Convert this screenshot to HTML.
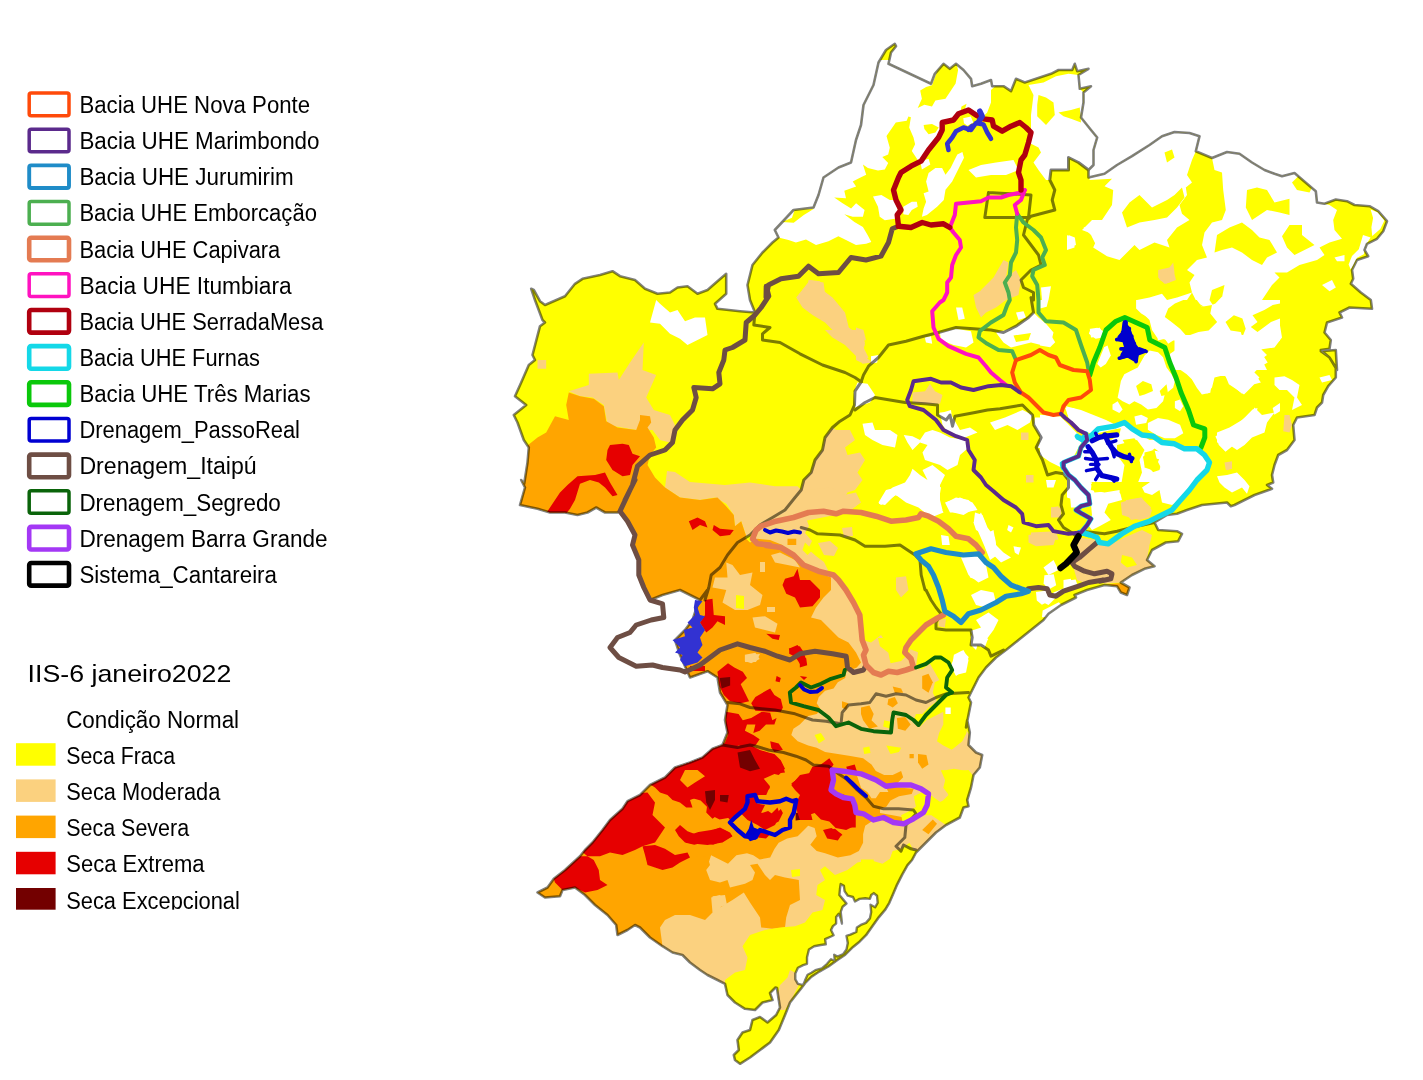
<!DOCTYPE html>
<html><head><meta charset="utf-8"><title>map</title>
<style>
html,body{margin:0;padding:0;background:#fff;}
body{width:1423px;height:1080px;overflow:hidden;}
svg{display:block;}
.t{font-family:"Liberation Sans",sans-serif;font-size:23px;fill:#000;}
.h{font-family:"Liberation Sans",sans-serif;font-size:24.4px;fill:#000;}
</style></head><body>
<svg width="1423" height="1080" viewBox="0 0 1423 1080">
<rect width="1423" height="1080" fill="#fff"/>
<clipPath id="c"><polygon points="531.2,288.8 533.8,290 540,301.2 545,305 565,296.2 575,283.8 582.5,278.8 600,275 612.5,271.2 620,276.2 635,280 645,288.8 657.5,293.8 670,292.5 677.5,287.5 687.5,286.2 697.5,293.8 707.5,290 717.5,281.2 726.2,273.8 726.2,293.8 715,303.8 717.5,308.8 740,311.2 755,312.5 750,300 747.5,285 752.5,265 762.5,252.5 772.5,242.5 778.5,237.5 774.8,230 793.5,210 813.5,207.5 818.5,195 823.5,177.5 838.5,167.5 851,162.5 856,140 861,125 863.5,105 873.5,85 878.5,62.5 886,50 894.8,43.8 896,46.2 891,52.5 888.5,63.8 931,83.8 934.8,73.8 943.5,63.8 949.8,68.8 956,63.8 963.5,70 971,78.8 972.2,86.2 981,83.8 991,80 992.2,86.2 1003.5,86.2 1011,91.2 1016,78.8 1024.8,82.5 1051,73.8 1058.5,70 1072.2,70 1074.8,63.8 1077.2,71.2 1088.5,68.8 1078.5,75 1079.8,88.8 1091,86.2 1083.5,92.5 1083.5,102.5 1081,117.5 1091,130 1097.2,137.5 1093.5,150 1093.5,165 1088.5,170 1088.5,177.5 1104.5,173.8 1117,165 1132,156.2 1149.5,145 1162,136.2 1174.5,132 1189.5,133 1199.5,136.2 1195.8,151.2 1212,158 1227,152 1239.5,153.8 1252,162.5 1264.5,170 1274.5,173.8 1282,176.2 1294.5,173 1307,183.8 1315.8,191.2 1317,202.5 1324.5,203.8 1335.8,199.5 1347,201.2 1354.5,205 1369.5,206.2 1378.2,211.2 1387,221.2 1383.2,231.2 1377,238.8 1367,243.8 1364.5,250 1368.2,256.2 1357,260 1352,270 1353.2,278.8 1350.8,283.8 1360.8,292.5 1370.8,300 1372,308.8 1349.5,307.5 1339.5,312.5 1342,317.5 1327,322.5 1324.5,332.5 1330.8,340 1329.5,348.8 1320.8,350 1329.5,357.5 1337,370 1335.8,350 1320.8,351.2 1329.5,357.5 1335.8,367.5 1335.8,377.5 1328.2,386.2 1323.2,395 1322,402.5 1317,407.5 1314.5,415 1297,417.5 1293.2,425 1294.5,440 1287,450 1278.2,455 1274.5,465 1272,475 1273.2,482.5 1267,485 1272,488.8 1254.5,495 1234.5,505 1230.8,506.2 1227,502.5 1202,505 1187,510 1177,513.8 1167,515 1154.5,522.5 1158.2,530 1177,531.2 1182,533.8 1178.2,541.2 1165.8,542.5 1152,550 1147,560 1154.5,566.2 1144.5,568.8 1132,575 1120.8,582.5 1129.5,587.5 1127,595 1120.8,592.5 1117,586.2 1104.5,585 1087,590 1074.5,595 1076,597.5 1061,605 1048.5,613.8 1043.5,620 1031,630 1018.5,640 1006,650 996,657.5 986,667.5 978.5,677.5 973.5,687.5 968.5,697.5 971,702.5 968.5,715 966,727.5 967.2,720 969.8,732.5 968.5,745 976,752.5 982.2,755 979.8,767.5 973.5,775 971,787.5 967.2,800 968.5,806.2 963.5,807.5 959.8,817.5 946,825 936,832.5 926,842.5 916,852.5 912,860 907.5,865.2 902.3,874.3 897.1,884.6 893.2,893.7 889.3,902.8 885.4,909.3 878.9,917.1 872.5,926.1 866,935.2 859.5,941.7 853,946.9 845.2,954.7 837.4,959.9 828.4,966.4 819.3,971.5 811.5,976.7 805,983.2 801.1,988.4 795.9,994.9 792,999.9 790,1002.5 785,1015 778.8,1030 770,1042.5 760,1050 750,1057.5 740,1063.8 735,1060 733.8,1055 738.8,1050 737.5,1040 742.5,1032.5 750,1030 752.5,1020 760,1017 767.5,1022.5 776.2,1015 780,1007.5 778,995 777,988 775.5,987.5 770,993 772.5,1000 762.5,1002.5 755,1010 745,1008.8 735,1002.5 727.5,995 725,983.8 717.5,980 707.5,975 700,970 690,962.5 682.5,955 672.5,952.5 662.5,946.2 650,937.5 640,927.5 635,925 627.5,930 617.5,935 616.2,925 607.5,915 595,905 585,895 575,887.5 562.5,890 560,896.2 545,897.5 537.5,892.5 547.5,887.5 553.8,878.8 565,870 580,856.2 585,850 592.5,842.5 602.5,830 610,820 622.5,808.8 627.5,801.2 640,795 650,785 665,777.5 675,767.5 690,762.5 702.5,757.5 712.5,748.8 722.5,745 727.5,732.5 725,720 727.5,705 720,692.5 717.5,677.5 707.5,671.2 690,677.5 685,666.2 680,655 675,640 685,630 692.5,620 697.5,605 700,600 690,595 680,590 662.5,595 650,600 643.8,587.5 638.8,575 638.8,560 632.5,545 635,535 627.5,521.2 620,511.2 617.5,512.5 605,512.5 596.2,507.5 587.5,512.5 577.5,515 565,512.5 550,512.5 537.5,508.8 520,505 525,487.5 521.2,480 524.2,483.8 527.5,462.5 528.8,447.5 523.8,440 517.5,422.5 513.8,415 526.2,405 515,396.2 521.2,382.5 528.8,365 535,360 532.5,355 540,326.2 545,322.5 542.5,320 535,300"/></clipPath>
<polygon points="531.2,288.8 533.8,290 540,301.2 545,305 565,296.2 575,283.8 582.5,278.8 600,275 612.5,271.2 620,276.2 635,280 645,288.8 657.5,293.8 670,292.5 677.5,287.5 687.5,286.2 697.5,293.8 707.5,290 717.5,281.2 726.2,273.8 726.2,293.8 715,303.8 717.5,308.8 740,311.2 755,312.5 750,300 747.5,285 752.5,265 762.5,252.5 772.5,242.5 778.5,237.5 774.8,230 793.5,210 813.5,207.5 818.5,195 823.5,177.5 838.5,167.5 851,162.5 856,140 861,125 863.5,105 873.5,85 878.5,62.5 886,50 894.8,43.8 896,46.2 891,52.5 888.5,63.8 931,83.8 934.8,73.8 943.5,63.8 949.8,68.8 956,63.8 963.5,70 971,78.8 972.2,86.2 981,83.8 991,80 992.2,86.2 1003.5,86.2 1011,91.2 1016,78.8 1024.8,82.5 1051,73.8 1058.5,70 1072.2,70 1074.8,63.8 1077.2,71.2 1088.5,68.8 1078.5,75 1079.8,88.8 1091,86.2 1083.5,92.5 1083.5,102.5 1081,117.5 1091,130 1097.2,137.5 1093.5,150 1093.5,165 1088.5,170 1088.5,177.5 1104.5,173.8 1117,165 1132,156.2 1149.5,145 1162,136.2 1174.5,132 1189.5,133 1199.5,136.2 1195.8,151.2 1212,158 1227,152 1239.5,153.8 1252,162.5 1264.5,170 1274.5,173.8 1282,176.2 1294.5,173 1307,183.8 1315.8,191.2 1317,202.5 1324.5,203.8 1335.8,199.5 1347,201.2 1354.5,205 1369.5,206.2 1378.2,211.2 1387,221.2 1383.2,231.2 1377,238.8 1367,243.8 1364.5,250 1368.2,256.2 1357,260 1352,270 1353.2,278.8 1350.8,283.8 1360.8,292.5 1370.8,300 1372,308.8 1349.5,307.5 1339.5,312.5 1342,317.5 1327,322.5 1324.5,332.5 1330.8,340 1329.5,348.8 1320.8,350 1329.5,357.5 1337,370 1335.8,350 1320.8,351.2 1329.5,357.5 1335.8,367.5 1335.8,377.5 1328.2,386.2 1323.2,395 1322,402.5 1317,407.5 1314.5,415 1297,417.5 1293.2,425 1294.5,440 1287,450 1278.2,455 1274.5,465 1272,475 1273.2,482.5 1267,485 1272,488.8 1254.5,495 1234.5,505 1230.8,506.2 1227,502.5 1202,505 1187,510 1177,513.8 1167,515 1154.5,522.5 1158.2,530 1177,531.2 1182,533.8 1178.2,541.2 1165.8,542.5 1152,550 1147,560 1154.5,566.2 1144.5,568.8 1132,575 1120.8,582.5 1129.5,587.5 1127,595 1120.8,592.5 1117,586.2 1104.5,585 1087,590 1074.5,595 1076,597.5 1061,605 1048.5,613.8 1043.5,620 1031,630 1018.5,640 1006,650 996,657.5 986,667.5 978.5,677.5 973.5,687.5 968.5,697.5 971,702.5 968.5,715 966,727.5 967.2,720 969.8,732.5 968.5,745 976,752.5 982.2,755 979.8,767.5 973.5,775 971,787.5 967.2,800 968.5,806.2 963.5,807.5 959.8,817.5 946,825 936,832.5 926,842.5 916,852.5 912,860 907.5,865.2 902.3,874.3 897.1,884.6 893.2,893.7 889.3,902.8 885.4,909.3 878.9,917.1 872.5,926.1 866,935.2 859.5,941.7 853,946.9 845.2,954.7 837.4,959.9 828.4,966.4 819.3,971.5 811.5,976.7 805,983.2 801.1,988.4 795.9,994.9 792,999.9 790,1002.5 785,1015 778.8,1030 770,1042.5 760,1050 750,1057.5 740,1063.8 735,1060 733.8,1055 738.8,1050 737.5,1040 742.5,1032.5 750,1030 752.5,1020 760,1017 767.5,1022.5 776.2,1015 780,1007.5 778,995 777,988 775.5,987.5 770,993 772.5,1000 762.5,1002.5 755,1010 745,1008.8 735,1002.5 727.5,995 725,983.8 717.5,980 707.5,975 700,970 690,962.5 682.5,955 672.5,952.5 662.5,946.2 650,937.5 640,927.5 635,925 627.5,930 617.5,935 616.2,925 607.5,915 595,905 585,895 575,887.5 562.5,890 560,896.2 545,897.5 537.5,892.5 547.5,887.5 553.8,878.8 565,870 580,856.2 585,850 592.5,842.5 602.5,830 610,820 622.5,808.8 627.5,801.2 640,795 650,785 665,777.5 675,767.5 690,762.5 702.5,757.5 712.5,748.8 722.5,745 727.5,732.5 725,720 727.5,705 720,692.5 717.5,677.5 707.5,671.2 690,677.5 685,666.2 680,655 675,640 685,630 692.5,620 697.5,605 700,600 690,595 680,590 662.5,595 650,600 643.8,587.5 638.8,575 638.8,560 632.5,545 635,535 627.5,521.2 620,511.2 617.5,512.5 605,512.5 596.2,507.5 587.5,512.5 577.5,515 565,512.5 550,512.5 537.5,508.8 520,505 525,487.5 521.2,480 524.2,483.8 527.5,462.5 528.8,447.5 523.8,440 517.5,422.5 513.8,415 526.2,405 515,396.2 521.2,382.5 528.8,365 535,360 532.5,355 540,326.2 545,322.5 542.5,320 535,300" fill="#ffff00" />
<g clip-path="url(#c)">
<polygon points="773.5,230.3 760,228.6 760,60 1000,60 1000,81.9 991,90 991,102.5 987.2,112.4 984.3,115.6 977.5,115.6 969.1,110.6 959,114 950.6,119.9 942.1,122.4 942.1,132.5 938.8,137.6 932,144.3 926.9,151.1 921.9,157.8 918.5,161.2 915.1,156.1 911.8,151.1 915.1,144.3 913.5,137.6 909.2,127.5 910.9,117.3 908.4,116.5 906.7,120.7 895.8,122.4 886.5,135.9 889.8,147.7 888.2,154.4 882.3,157 888.2,162.9 884.8,169.6 878,170.5 867.9,167.9 862.9,164.6 866.2,174.7 859.5,178 852.7,181.4 856.1,186.5 844.3,190.7 846,198.3 834.2,197.4 842.6,203.3 851.1,208.4 856.1,203.3 864.6,210.1 862.9,216.8 852.7,216.8 844.3,214.3 854.4,221.9 862.9,226.9 867.9,235.4 871.3,242 866.1,243.8 856,245 846,239.9 838.4,236.2 828.5,241.3 816,245 806,239.4 795.9,242.5 788.5,239.9 778.5,237.6" fill="#ffffff" />
<polygon points="932,85.3 938.8,66.7 943.8,62.5 948.9,68.4 956.5,63.4 958.1,70.1 955.6,83.6 945.5,98.8 935.4,100.5 932,106.4 924.4,104.7 917.7,108.1 921.9,98.8 920.2,90.4 926.1,87" fill="#ffff00" />
<polygon points="923.6,124.9 932,124.1 938.8,127.5 935.4,132.5 928.6,134.2 924.4,129.1" fill="#ffff00" />
<polygon points="794.6,210.1 814,208.7 803.8,215.1 793.7,222.7 781.9,221.9 792,217.7" fill="#ffff00" />
<polygon points="961.5,106.4 966.6,103.8 964.9,108.9 960.7,110.6" fill="#ffff00" />
<polygon points="873,196.6 881.4,194.9 889.8,200 894.9,200 898.3,211.8 896.6,218.5 884.8,220.2 879.7,216.8 878,206.7" fill="#ffffff" />
<polygon points="903.3,206.7 911.8,201.7 916.8,201.7 917.7,206.7 911.8,210.1 908.4,215.1 903.3,214.3" fill="#ffffff" />
<polygon points="957.3,154.4 962.4,151.9 964,157.8 957.3,171.3 952.2,181.4 945.5,189.8 943.8,200 937.1,206.7 926.9,215.1 921.9,216.8 923.6,208.4 926.1,201.7 923.6,193.2 928.6,191.5 926.1,181.4 928.6,173 935.4,167.9 942.1,167.9 945.5,174.7 950.6,167.9 953.9,161.2" fill="#ffffff" />
<polygon points="920.2,161.2 928.6,158.7 930.3,164.6 921.9,169.6" fill="#ffffff" />
<polygon points="963.2,118.2 970.8,116.5 973.3,122.4 967.4,125.8 964,123.2" fill="#ffffff" />
<polygon points="968.5,170 981,165 996,162.5 1013.5,160 1018.5,170 1006,175 991,175 976,177.5" fill="#ffffff" />
<polygon points="1033.5,95 1031,115 1031,132.5 1028.5,142.5 1038.5,147.5 1041,152.5 1033.5,162.5 1038.5,170 1046,180 1049.8,180 1051,170 1068.5,170 1068.5,157.5 1078.5,162.5 1088.5,170 1093.5,165 1093.5,150 1097.2,137.5 1091,130 1081,117.5 1083.5,102.5 1083.5,92.5 1079.8,88.8 1078.5,75 1068.5,73.8 1056,76.2 1043.5,82.5 1028.5,85" fill="#ffffff" />
<polygon points="1038.5,95 1046,97.5 1053.5,102.5 1054.8,115 1046,125 1037.2,116.2 1037.2,105" fill="#ffff00" />
<polygon points="1058.5,112.5 1071,110 1079.8,107.5 1081,122.5 1071,118.8 1063.5,116.2" fill="#ffff00" />
<polygon points="1068.5,235 1074.8,237.5 1076,245 1068.5,247.5" fill="#ffffff" />
<polygon points="1083.5,227.5 1096,225 1111.8,222.5 1111.8,255 1098.5,250 1091,235" fill="#ffffff" />
<polygon points="808.5,280 823.5,282.5 826,300 806,300" fill="#fbd17f" />
<polygon points="993.5,277.5 1003.5,260 1008.5,262.5 1006,277.5 1016,270 1021,280 1018.5,295 1006,300 976,300 981,290" fill="#fbd17f" />
<polygon points="1089.5,180 1092,150 1149.5,137.5 1174.5,125 1202,130 1195.8,151.2 1192,160 1187,175 1192,182.5 1185.8,187.5 1187,195 1179.5,205 1182,213.8 1189.5,220 1177,227.5 1167,240 1169.5,247.5 1154.5,242.5 1139.5,250 1134.5,245 1127,252.5 1119.5,260 1107,256.2 1093.2,247.5 1098.2,236.2 1082,230 1092,220 1102,220 1112,205 1113.2,190 1104.5,186.2 1112,178.8" fill="#ffffff" />
<polygon points="1122,212.5 1129.5,202.5 1139.5,195 1152,207.5 1167,200 1174.5,195 1182,187.5 1184.5,197.5 1177,207.5 1167,217.5 1154.5,220 1139.5,222.5 1127,227.5" fill="#ffff00" />
<polygon points="1164.5,152.5 1172,149.5 1174.5,157.5 1167,162.5" fill="#ffff00" />
<polygon points="1212,158 1217,137.5 1292,162.5 1319.5,187.5 1324.5,203.8 1329.5,205 1337,210 1333.2,220 1334.5,230 1342,238.8 1329.5,242.5 1319.5,247.5 1324.5,255 1317,260 1299.5,265 1287,272.5 1274.5,272.5 1279.5,277.5 1272,285 1262,300 1267,312.5 1279.5,322.5 1282,337.5 1274.5,347.5 1257,350 1262,360 1267,370 1172,370 1177,340 1167,340 1157,337.5 1152,330 1149.5,320 1139.5,310 1137,300 1149.5,297.5 1162,293.8 1167,300 1177,297.5 1184.5,295 1192,292.5 1189.5,282.5 1194.5,275 1187,270 1197,260 1207,257.5 1202,245 1204.5,232.5 1212,222.5 1222,220 1225.8,210 1223.2,190 1222,172.5 1214.5,170" fill="#ffffff" />
<polygon points="1247,190 1257,187.5 1267,190 1274.5,202.5 1289.5,198.8 1289.5,215 1279.5,212.5 1267,210 1252,220 1245.8,207.5" fill="#ffff00" />
<polygon points="1217,235 1229.5,227.5 1242,222.5 1252,230 1259.5,237.5 1269.5,240 1277,252.5 1267,257.5 1262,265 1252,260 1242,252.5 1232,247.5 1222,250 1214.5,252.5" fill="#ffff00" />
<polygon points="1289.5,225 1302,225 1302,235 1314.5,245 1304.5,250 1294.5,255 1287,247.5 1282,236.2" fill="#ffff00" />
<polygon points="1292,182.5 1299.5,175 1312,187.5 1309.5,192.5 1297,190" fill="#ffff00" />
<polygon points="1167,315 1174.5,305 1187,300 1192,292.5 1197,302.5 1209.5,310 1212,317.5 1217,322.5 1207,330 1197,330 1189.5,335 1182,325" fill="#ffff00" />
<polygon points="1227,317.5 1237,315 1242,322.5 1244.5,335 1239.5,330 1229.5,327.5" fill="#ffff00" />
<polygon points="1212,290 1224.5,285 1222,297.5 1214.5,307.5 1209.5,300" fill="#ffff00" />
<polygon points="1252,325 1259.5,321.2 1264.5,327.5 1257,332.5 1252,333.8" fill="#ffff00" />
<polygon points="1067,235 1074.5,240 1074.5,247.5 1067,250" fill="#ffffff" />
<polygon points="1322,285 1332,280 1335.8,287.5 1329.5,291.2" fill="#ffffff" />
<polygon points="1334.5,257.5 1344.5,255 1344.5,261.2 1337,261.2" fill="#ffffff" />
<polygon points="1158.2,270 1169.5,267.5 1173.2,262.5 1174.5,272.5 1169.5,282.5 1164.5,283.8 1158.2,277.5" fill="#fbd17f" />
<polygon points="1089.5,332.5 1099.5,327.5 1104.5,335 1094.5,337.5" fill="#ffffff" />
<polygon points="1136.1,301.7 1136.1,308.4 1141.2,313.5 1149.6,318.5 1151.3,321.9 1156.4,333.7 1158,340.5 1164.8,338.8 1168.2,343.8 1173.2,340.5 1180,340.5 1174.9,350.6 1169.8,354 1168.2,359 1171.5,367.5 1176.6,367.5 1181.7,370.8 1186.7,374.2 1191.8,379.3 1196.8,387.7 1201.9,394.4 1210.3,392.7 1212,380.9 1213.7,375.9 1225.5,375.9 1228.9,384.3 1239,391.1 1244,394.4 1249.1,389.4 1254.2,384.3 1260.9,382.6 1257.5,377.6 1252.5,374.2 1259.2,367.5 1267.7,362.4 1264.3,357.3 1257.5,352.3 1264.3,347.2 1272.7,343.8 1280,340.5 1280,300 1225.5,300 1222.1,296.6 1215.4,303.4 1212,305.1 1201.9,306.7 1196.8,300 1183.3,300 1174.9,303.4 1168.2,308.4 1161.4,300 1136.1,300" fill="#ffffff" />
<polygon points="1168.2,308.4 1174.9,303.4 1183.3,300 1196.8,300 1201.9,306.7 1212,305.1 1210.3,313.5 1217.1,321.9 1208.6,330.4 1198.5,332 1186.7,336.3 1180,328.7 1171.5,321.9 1164.8,316.9" fill="#ffff00" />
<polygon points="1225.5,321.9 1233.9,315.2 1242.4,318.5 1245.7,328.7 1242.4,337.1 1240.7,332 1230.6,330.4" fill="#ffff00" />
<polygon points="1252.5,315.2 1264.3,310.1 1272.7,305.1 1280,303.4 1280,318.5 1271,321.9 1264.3,327 1257.5,332 1250.8,327 1257.5,321.9" fill="#ffff00" />
<polygon points="1090.6,328.7 1097.3,327.8 1104.1,332 1105.8,337.1 1095.6,338.8 1088.9,333.7" fill="#ffffff" />
<polygon points="1104.1,347.2 1107.5,345.5 1110.8,355.6 1105.8,364.1 1100.7,367.5 1097.3,364.1" fill="#ffffff" />
<polygon points="1120.9,380.9 1124.3,374.2 1131.1,370.8 1137.8,367.5 1144.6,355.6 1149.6,350.6 1158,352.3 1163.1,357.3 1166.5,367.5 1171.5,374.2 1174.9,380.9 1173.2,387.7 1164.8,394.4 1163.1,401.2 1156.4,407.9 1147.9,409.6 1141.2,404.6 1134.4,401.2 1129.4,404.6 1122.6,401.2 1117.6,397.8 1119.3,389.4" fill="#ffffff" />
<polygon points="1136.1,386 1142.9,380.9 1151.3,384.3 1153,391.1 1144.6,394.4 1139.5,396.1" fill="#ffff00" />
<polygon points="1159.7,391.1 1166.5,384.3 1168.2,394.4 1161.4,396.1" fill="#ffff00" />
<polygon points="1112.5,404.6 1117.6,401.2 1122.6,409.6 1119.3,413 1112.5,409.6" fill="#ffffff" />
<polygon points="1174.9,401.2 1180,399.5 1183.3,406.2 1180,411.3 1174.9,407.9" fill="#ffffff" />
<polygon points="1134.4,416.4 1141.2,414.7 1147.9,418 1146.2,423.1 1136.1,424.8" fill="#ffffff" />
<polygon points="1147.9,423.1 1158,418 1168.2,419.7 1180,424.8 1183.3,433.2 1174.9,438.3 1164.8,438.3 1156.4,434.9 1147.9,429.8" fill="#ffffff" />
<polygon points="1040,414.7 1060.2,416.4 1067,423.1 1077.1,433.2 1083.8,438.3 1078.8,446.7 1073.7,456.8 1065.3,461.9 1060.2,466.9 1050.1,461.9 1040,455.1" fill="#ffffff" />
<polygon points="1065.3,407.9 1073.7,407.9 1080.5,414.7 1088.9,423.1 1097.3,428.2 1090.6,433.2 1083.8,431.5 1077.1,428.2 1068.7,418" fill="#ffffff" />
<polygon points="1088.9,434.9 1097.3,429.8 1112.5,428.2 1122.6,424.8 1131.1,429.8 1141.2,434.9 1149.6,440 1158,440 1168.2,443.3 1178.3,446.7 1188.4,450.1 1196.8,448.4 1201.9,455.1 1208.6,461.9 1206.9,472 1198.5,478.8 1193.5,482 1073.7,482 1063.6,475.4 1061.9,465.3 1073.7,458.5 1080.5,448.4 1085.5,441.7" fill="#ffffff" />
<polygon points="1122.6,440 1134.4,438.3 1139.5,445 1136.1,451.8 1127.7,448.4" fill="#ffff00" />
<polygon points="1142.9,456.8 1154.7,448.4 1161.4,453.5 1158,461.9 1161.4,468.6 1156.4,475.4 1149.6,468.6 1144.6,465.3" fill="#ffff00" />
<polygon points="1163.1,458.5 1171.5,451.8 1178.3,448.4 1186.7,451.8 1183.3,460.2 1174.9,461.9 1168.2,465.3" fill="#ffff00" />
<polygon points="1188.4,458.5 1198.5,453.5 1205.3,461.9 1201.9,470.3 1193.5,468.6" fill="#ffff00" />
<polygon points="1124.3,468.6 1134.4,461.9 1141.2,468.6 1137.8,478.8 1129.4,482 1124.3,477.1" fill="#ffff00" />
<polygon points="1097.3,433.2 1112.5,429.8 1120.9,428.2 1119.3,434.9 1110.8,440 1104.1,438.3" fill="#ffff00" />
<polygon points="1215.4,436.6 1222.1,431.5 1230.6,428.2 1239,423.1 1245.7,416.4 1252.5,409.6 1257.5,407.9 1255.9,416.4 1259.2,421.4 1252.5,424.8 1245.7,433.2 1239,438.3 1233.9,445 1225.5,451.8 1218.8,445 1217.1,440" fill="#ffffff" />
<polygon points="1272.7,407.9 1280,402.9 1280,411.3 1274.4,414.7" fill="#ffffff" />
<polygon points="1040,300 1048.4,300 1046.7,306.7 1040,308.4" fill="#ffffff" />
<polygon points="1040,332 1050.1,333.7 1055.2,342.2 1050.1,347.2 1040,345.5" fill="#ffffff" />
<polygon points="1225.5,465.3 1230.6,461.9 1232.2,468.6 1227.2,470.3" fill="#fbd17f" />
<polygon points="1174.5,335 1174.5,355 1177,365 1187,372.5 1202,385 1207,393.8 1212,387.5 1214.5,377.5 1224.5,375 1232,385 1242,393.8 1252,385 1259.5,377.5 1252,370 1257,362.5 1267,355 1259.5,347.5 1274.5,335" fill="#ffffff" />
<polygon points="1274.5,377.5 1284.5,376.2 1292,380 1299.5,385 1297,397.5 1302,405 1292,410 1294.5,397.5 1287,390 1279.5,390 1274.5,385" fill="#ffffff" />
<polygon points="1217,432.5 1229.5,427.5 1242,420 1252,412.5 1254.5,407.5 1262,415 1274.5,412.5 1267,422.5 1264.5,432.5 1252,437.5 1244.5,445 1237,450 1229.5,445 1217,442.5" fill="#ffffff" />
<polygon points="1217,476.2 1227,475 1237,472.5 1244.5,480 1249.5,486.2 1247,493.8 1242,487.5 1232,492.5 1224.5,487.5 1219.5,482.5" fill="#ffffff" />
<polygon points="1319.5,377.5 1329.5,375 1332,380 1322,382.5" fill="#ffffff" />
<polygon points="1284.5,415 1289.5,415 1292,425 1289.5,432.5 1283.2,431.2" fill="#fbd17f" />
<polygon points="1224.5,462.5 1232,461.2 1232,468.8 1225.8,470" fill="#fbd17f" />
<polygon points="956,307.5 962.2,307.5 964.8,318.8 958.5,320" fill="#ffffff" />
<polygon points="1016,312.5 1023.5,311.2 1026,317.5 1018.5,320" fill="#ffffff" />
<polygon points="996,332.5 1006,330 1016,326.2 1028.5,317.5 1033.5,312.5 1038.5,317.5 1046,323.8 1053.5,332.5 1051,342.5 1041,345 1031,342.5 1021,345 1011,347.5 1003.5,342.5" fill="#ffffff" />
<polygon points="1013.5,335.5 1031,333 1028.5,340 1016,342" fill="#ffff00" />
<polygon points="939.8,332.5 956,328.8 971,331.2 973.5,342.5 966,347.5 953.5,345 941,340" fill="#ffffff" />
<polygon points="924.8,337.5 931,336.2 932.2,343.8 926,342.5" fill="#ffffff" />
<polygon points="1041,287.5 1051,286.2 1048.5,300 1042.2,302.5" fill="#ffffff" />
<polygon points="871,356.2 878.5,355 877.2,362.5 871,363.8" fill="#ffffff" />
<polygon points="938.5,413.8 951,410 952.2,420 943.5,421.2" fill="#ffffff" />
<polygon points="1066,406.2 1081,410 1093.5,415 1106,420 1116,425 1106,430 1093.5,431.2 1083.5,432.5 1076,425 1068.5,417.5" fill="#ffffff" />
<polygon points="1089.8,328.8 1106,331.2 1102.2,336.2 1091,337.5" fill="#ffffff" />
<polygon points="973.5,295 986,287.5 996,280 1006,275 1008.5,285 1006,300 996,307.5 986,312.5 981,317.5 976,307.5" fill="#fbd17f" />
<polygon points="856,327.5 863.5,330 866,340 858.5,342.5 856,341.2" fill="#fbd17f" />
<polygon points="856,342.5 863.5,347.5 868.5,357.5 861,362.5 856,360" fill="#fbd17f" />
<polygon points="1158.5,272.5 1173.5,270 1176,280 1166,283.8 1159.8,280" fill="#fbd17f" />
<polygon points="1021,432.5 1028.5,432.5 1028.5,440 1021,440" fill="#fbd17f" />
<polygon points="1026,475 1033.5,475 1033.5,482.5 1026,482.5" fill="#fbd17f" />
<polygon points="1126,500 1141,497.5 1151,507.5 1146,517.5 1131,520 1123.5,510" fill="#fbd17f" />
<polygon points="1051,507.5 1061,507.5 1061,517.5 1051,517.5" fill="#fbd17f" />
<polygon points="1031,532.5 1056,531.2 1058.5,539.8 1031,539.8" fill="#fbd17f" />
<polygon points="857.5,382.5 867.5,383.75 875,395 870,402.5 855,407.5 853.75,392.5" fill="#ffffff" />
<polygon points="862.5,423.75 872.5,422.5 875,430 890,430 897.5,435 895,447.5 882.5,445 872.5,440 865,435" fill="#ffffff" />
<polygon points="903.75,435 912.5,436.25 920,440 925,432.5 932.5,430 940,432.5 950,437.5 965,440 968.75,447.5 960,455 957.5,465 947.5,470 940,465 932.5,462.5 925,460 922.5,452.5 927.5,445 920,442.5 912.5,450 907.5,442.5" fill="#ffffff" />
<polygon points="912.5,468.75 920,475 927.5,480 922.5,470 932.5,465 945,475 940,485 940,500 942.5,510 932.5,512.5 920,505 907.5,500 895,495 885,505 878.75,503.75 885,495 892.5,487.5 905,482.5 910,475" fill="#ffffff" />
<polygon points="945,502.5 960,497.5 972.5,502.5 977.5,510 965,512.5 950,512.5" fill="#ffffff" />
<polygon points="975,512.5 982.5,515 987.5,527.5 995,537.5 997.5,555 990,560 985,547.5 977.5,530 973.75,522.5" fill="#ffffff" />
<polygon points="965,557.5 977.5,560 982.5,570 977.5,580 970,577.5 967.5,567.5" fill="#ffffff" />
<polygon points="940,412.5 950,412.5 960,430 970,427.5 977.5,432.5 965,437.5 950,435 942.5,425" fill="#ffffff" />
<polygon points="990,422.5 1005,417.5 1022.5,410 1032.5,415 1030,422.5 1017.5,430 1007.5,425 995,430" fill="#ffffff" />
<polygon points="1035,417.5 1055.75,417.5 1065,425 1075,440 1062,462 1055.75,455 1047.5,450 1037.5,447.5 1041.25,437.5 1033.75,425" fill="#ffffff" />
<polygon points="836.25,430 850,430 855,440 845,447.5 847.5,455 860,452.5 865,460 857.5,472.5 862.5,480 855,490 847.5,492.5 840,505 835,515 760,530 760,525 772.5,517.5 785,510 795,497.5 801.25,490 803.75,480 811.25,472.5 815,460 822.5,450 825,437.5 832.5,427.5" fill="#fbd17f" />
<polygon points="725,485 750,482.5 775,486.25 797.5,486.25 801.25,490 795,497.5 785,510 772.5,517.5 760,525 750,535 746.25,536.25 741.25,521.25 735,526.25 733.75,515 726.25,503.75 715,497.5 700,500 680,497.5 665,487.5 667,471 675,472 690,482" fill="#fbd17f" />
<polygon points="825,330 860,330 865,342.5 862.5,355 872.5,362.5 862.5,363.75 855,355 845,345 832.5,337.5" fill="#fbd17f" />
<polygon points="912.5,392.5 925,391.25 930,383.75 935,391.25 942.5,395 940,403.75 925,403.75 912.5,402.5" fill="#fbd17f" />
<polygon points="656.2,300 650,322.5 660,323.8 670,333.8 680,338.8 687.5,345 697.5,340 707.5,335 705,317.5 695,317.5 685,321.2 677.5,310 670,312.5 660,303.8" fill="#ffffff" />
<polygon points="588.8,373.8 617.5,372.5 618.8,380 630,362.5 643.8,342.5 642.5,370 656.2,375 646.2,397.5 653.8,410 670,415 675,425 670,442.5 660,440 652.5,430 636.2,430 607.5,425 603.8,405 592.5,397.5 580,396.2 568.8,391.2 588.8,385" fill="#fbd17f" />
<polygon points="537.5,360 546.2,360 546.2,368.8 537.5,368.8" fill="#fbd17f" />
<polygon points="796.2,297.5 810,280 820,281.2 822.5,290 832.5,297.5 845,312.5 848.8,327.5 855.8,332.5 865,345 860,350 850,345 837.5,335 825,322.5 812.5,315 802.5,307.5" fill="#fbd17f" />
<polygon points="525,447.5 537.5,437.5 546.2,432.5 555,416.2 568.8,420 566.2,405 568.8,392.5 580,396.2 593.8,398.8 603.8,406.2 606.2,421.2 617.5,427.5 636.2,430 640,420 640,415 650,416.2 651.2,422.5 647.5,427.5 653.8,437.5 656.2,447.5 650,455 647.5,465 655,477.5 665,487.5 680,497.5 700,500 717.5,497.5 725,505 733.8,515 735,526.2 741.2,521.2 746.2,536.2 725,562.5 712.5,575 707.5,590 700,605 650,605 612.5,515 515,515 515,465" fill="#ffa500" />
<polygon points="610,445 622.5,443.8 628.8,445 632.5,453.8 640,456.2 632.5,465 630,475 622.5,476.2 612.5,470 606.2,460 607.5,450" fill="#e60000" />
<polygon points="545,515 560,492.5 567.5,485 577.5,476.2 595,475 605,472.5 610,482.5 617.5,495 612.5,496.2 605,487.5 598.8,482.5 590,480 580,483.8 575,500 570,508.8 565,515" fill="#e60000" />
<polygon points="688.8,521.2 697.5,517.5 705,521.2 707.5,527.5 700,525 692.5,530" fill="#e60000" />
<polygon points="713.8,525 720,528.8 733.8,530 730,535 720,536.2 712.5,530" fill="#e60000" />
<polygon points="752.5,538 756,545 766,545.5 781,547.5 793.5,555 803.5,565 818.5,571.25 833.5,575 838.5,580 846,590 853.5,602.5 859.75,615 861,627.5 862.25,640 871,642.5 881,635 891,650 896,660 906,655 906,647.5 925,655 945,690 960,720 985,760 975,800 965,830 930,850 905,880 890,910 800,1000 700,1000 600,940 520,900 520,760 700,640" fill="#fbd17f" />
<polygon points="752.5,536 756,530 767.5,523.75 782.5,520 797.5,516.25 810,511.25 815,511.5 806,518 809,526 805,533 812,541 808,549 816,556 824,562 828,570 820,576 812.5,570 800,565 792.5,557.5 782.5,550 770,545 757.5,543.75" fill="#fbd17f" />
<polygon points="810,527.5 820,522.5 825,530 817.5,537.5 810,535" fill="#ffff00" />
<polygon points="805,542.5 812.5,550 807.5,555 802.5,550" fill="#ffff00" />
<polygon points="787.5,538.75 796.25,538.75 796.25,545 787.5,545" fill="#ffa500" />
<polygon points="640,600 700,600 707.5,590 712.5,572.5 725,562.5 732.5,545 745,537.5 750,542.5 757.5,538.75 770,540 782.5,545 785,552.5 796,555 806,567.5 818.5,572.5 831,577.5 831,590 823.5,597.5 816,607.5 811,617.5 821,620 831,630 838.5,637.5 848.5,642.5 856,652.5 861,662.5 856.8,667.4 846.2,671.7 845.2,678 837.8,682.2 833.6,688.6 825.1,690.7 818.8,697 816.7,703.3 820.9,709.7 816.7,713.9 808.2,716 804,720.2 799.8,724.4 793.4,728.7 791.3,735 797.7,741.3 808.2,745.6 816.7,747.7 825.1,751.9 837.8,754 850.4,756.1 863.1,758.2 871.5,764.6 875.8,770.9 884.2,775.1 892.7,775.1 901.1,770.9 903.2,777.2 896.9,783.6 888.4,785.7 901.1,787.8 913.8,788.8 911.7,794.1 899,796.2 890.5,800.4 886.3,806.8 880,808.9 880,813.1 892.7,815.2 903.2,817.3 901.1,823.7 892.7,823.7 880,819.4 871.5,821.5 865.2,825.8 863.1,834.2 863.1,842.7 858.9,851.1 850.4,855.3 837.8,857.4 825.1,853.2 816.7,851.1 810.3,844.8 816.7,836.3 814.6,827.9 808.2,825.8 804,830 797.7,836.3 787.1,838.4 778.7,842.7 774.4,849 770.2,857.4 759.7,859.5 753.3,855.3 747,853.2 736.4,855.3 728,863.8 711.1,855.3 709,861.7 702.7,872.2 542.2,872.2 542.2,766.7" fill="#ffa500" />
<polygon points="744.9,654.8 755.4,652.7 759.7,659 751.2,663.2 744.9,661.1" fill="#fbd17f" />
<polygon points="856.8,775.1 865.2,777.2 875.8,781.4 886.3,787.8 888.4,792 880,792 875.8,798.3 871.5,798.3 867.3,792 861,787.8" fill="#fbd17f" />
<polygon points="842,701.2 848.3,703.3 846.2,709.7 842,707.6" fill="#ffa500" />
<polygon points="861,707.6 869.4,705.4 873.7,713.9 871.5,720.2 877.9,726.6 869.4,728.7 863.1,720.2 861,713.9" fill="#ffa500" />
<polygon points="888.4,699.1 894.8,697 897.9,703.3 892.7,707.6 887.4,704.4" fill="#ffa500" />
<polygon points="892.7,686.4 901.1,688.6 903.2,692.8 894.8,692.8" fill="#ffa500" />
<polygon points="896.9,718.1 905.3,717.1 910.6,724.4 905.3,730.8 897.9,728.7" fill="#ffa500" />
<polygon points="922.2,675.9 928.5,673.8 932.8,682.2 928.5,692.8 922.2,688.6" fill="#ffa500" />
<polygon points="918,754 926.4,755.1 928.5,764.6 922.2,768.8 918,762.4" fill="#ffa500" />
<polygon points="909.5,754 913.8,754 913.8,758.2 909.5,758.2" fill="#ffa500" />
<polygon points="922.2,830 932.8,819.4 937,823.7 928.5,834.2" fill="#ffa500" />
<polygon points="877.9,637.9 911.7,637.9 909.5,652.7 901.1,661.1 890.5,663.2 888.4,652.7 880,646.3" fill="#ffff00" />
<polygon points="913.8,629.4 913.8,642.1 918,652.7 915.9,667.4 922.2,669.6 932.8,661.1 939.1,667.4 943.3,678 934.9,682.2 932.8,692.8 937,701.2 928.5,707.6 922.2,713.9 915.9,713.9 913.8,720.2 920.1,726.6 926.4,720.2 934.9,716 943.3,711.8 943.3,724.4 939.1,732.9 937,741.3 943.3,745.6 951.8,749.8 962.3,741.3 966.5,732.9 966.5,724.4 1006.7,724.4 1006.7,629.4" fill="#ffff00" />
<polygon points="953.9,654.8 962.3,650.6 968.7,656.9 964.4,669.6 956,675.9 951.8,667.4" fill="#ffffff" />
<polygon points="945.4,707.6 950.7,707.6 950.7,713.9 945.4,713.9" fill="#ffffff" />
<polygon points="941.2,770.9 953.9,768.8 966.5,770.9 968.7,783.6 962.3,792 964.4,802.6 958.1,808.9 947.5,806.8 949.7,796.2 943.3,787.8 945.4,779.3" fill="#ffff00" />
<polygon points="913.8,796.2 922.2,792 928.5,792 928.5,806.8 943.3,800.4 939.1,813.1 930.7,815.2 922.2,815.2 911.7,819.4 903.2,823.7 901.1,815.2 909.5,811 915.9,806.8" fill="#ffff00" />
<polygon points="892.7,851.1 901.1,849 909.5,842.7 913.8,851.1 909.5,859.5 901.1,867.8 888.4,867.8 890.5,857.4" fill="#ffff00" />
<polygon points="861,859.5 873.7,859.5 873.7,867.8 861,867.8" fill="#ffff00" />
<polygon points="814.6,735 820.9,732.9 825.1,739.2 818.8,743.4" fill="#ffff00" />
<polygon points="863.1,747.7 869.4,746.6 870.5,752.9 864.2,754" fill="#ffff00" />
<polygon points="886.3,745.6 901.1,747.7 899,751.9 890.5,754" fill="#ffff00" />
<polygon points="884.2,720.2 892.7,722.3 890.5,728.7 883.2,726.6" fill="#ffff00" />
<polygon points="717.4,671.7 728,663.2 734.3,667.4 742.8,671.7 747,678 740.7,684.3 744.9,692.8 749.1,701.2 740.7,703.3 730.1,701.2 723.8,694.9 719.6,686.4" fill="#e60000" />
<polygon points="719.6,678 730.1,676.9 730.1,685.4 721.7,688.6" fill="#730000" />
<polygon points="751.2,703.3 755.4,697 766,690.7 770.2,688.6 774.4,694.9 780.8,699.1 782.9,707.6 780.8,711.8 770.2,711.8 755.4,710.7" fill="#e60000" />
<polygon points="789.2,648.4 799.8,646.3 804,652.7 795.6,656.9 789.2,653.7" fill="#e60000" />
<polygon points="799.8,659 806.1,657.9 807.2,665.3 799.8,667.4" fill="#e60000" />
<polygon points="776.6,675.9 780.8,678 779.7,682.2 775.5,681.2" fill="#e60000" />
<polygon points="799.8,675.9 807.2,676.9 804,680.1" fill="#e60000" />
<polygon points="725.9,711.8 738.6,713.9 742.8,720.2 751.2,718.1 761.8,711.8 770.2,712.8 772.3,720.2 776.6,718.1 774.4,724.4 766,724.4 759.7,730.8 753.3,732.9 755.4,724.4 747,724.4 744.9,730.8 753.3,735 759.7,739.2 755.4,745.6 747,747.7 738.6,745.6 732.2,749.8 723.8,745.6 728,735 725.9,724.4" fill="#e60000" />
<polygon points="770.2,741.3 778.7,743.4 782.9,749.8 774.4,751.9 771.3,747.7" fill="#e60000" />
<polygon points="685.8,762.4 700.6,758.2 711.1,749.8 723.8,747.7 738.6,749.8 751.2,747.7 761.8,751.9 774.4,754 780.8,760.3 785,768.8 778.7,775.1 770.2,773 761.8,777.2 763.9,783.6 770.2,787.8 763.9,794.1 753.3,796.2 744.9,800.4 738.6,808.9 732.2,817.3 719.6,819.4 711.1,815.2 706.9,806.8 700.6,800.4 685.8,796.2" fill="#e60000" />
<polygon points="738.6,754 749.1,749.8 753.3,760.3 759.7,768.8 751.2,770.9 742.8,766.7 737.5,760.3" fill="#730000" />
<polygon points="706.9,789.9 715.3,788.8 716.4,800.4 710.1,808.9 706.9,802.6" fill="#730000" />
<polygon points="719.6,795.2 730.1,796.2 729.1,801.5 720.6,801.5" fill="#730000" />
<polygon points="791.3,783.6 799.8,777.2 808.2,775.1 812.4,766.7 820.9,764.6 829.3,758.2 833.6,764.6 829.3,770.9 825.1,775.1 829.3,779.3 825.1,787.8 829.3,796.2 837.8,800.4 846.2,800.4 852.6,808.9 850.4,817.3 854.7,825.8 846.2,830 835.7,827.9 829.3,821.5 820.9,819.4 814.6,813.1 808.2,815.2 804,808.9 808.2,802.6 801.9,798.3 804,789.9 795.6,787.8" fill="#e60000" />
<polygon points="846.2,766.7 854.7,764.6 856.8,770.9 848.3,773" fill="#e60000" />
<polygon points="744.9,800.4 753.3,806.8 761.8,813.1 768.1,811 774.4,815.2 780.8,808.9 782.9,813.1 778.7,821.5 770.2,825.8 761.8,823.7 753.3,819.4 744.9,815.2 740.7,808.9" fill="#e60000" />
<polygon points="795.6,813.1 801.9,812 802.9,819.4 795.6,820.5" fill="#730000" />
<polygon points="823,830 831.4,827.9 842,834.2 837.8,840.5 827.2,838.4" fill="#e60000" />
<polygon points="685.8,836.3 698.4,832.1 711.1,830 719.6,827.9 728,832.1 732.2,836.3 723.8,840.5 713.2,844.8 702.7,842.7 694.2,844.8 685.8,842.7" fill="#e60000" />
<polygon points="757.6,832.1 770.2,834.2 766,838.4 757.6,837.4" fill="#e60000" />
<polygon points="726.25,562.5 732.5,565 740,575 752.5,572.5 750,585 762.5,595 760,605 747.5,610 735,610 722.5,602.5 726.25,590 712.5,587.5 715,577.5 727.5,577.5" fill="#fbd17f" />
<polygon points="736,595 744,596 744,609 736,608" fill="#ffff00" />
<polygon points="752.5,617.5 765,616.25 777.5,623.75 775,632.5 765,630 755,627.5" fill="#fbd17f" />
<polygon points="746,655 760,654 756,662 745,662" fill="#fbd17f" />
<polygon points="760,562 765,562 765,572 760,572" fill="#fbd17f" />
<polygon points="767,607 775,607 775,612 767,612" fill="#fbd17f" />
<polygon points="771,555 780,552.5 795,560 800,567.5 787.5,565 775,562.5" fill="#fbd17f" />
<polygon points="705,600 712.5,598.75 713.75,615 725,616.25 725,625 717.5,621.25 712.5,627.5 706.25,632.5 700,622.5 705,615" fill="#e60000" />
<polygon points="797.5,568.75 800,580 810,580 820,590 820,597.5 812.5,606.25 800,607.5 795,597.5 786.25,593.75 782.5,585 785,578.75 793.75,576.25" fill="#e60000" />
<polygon points="766.25,633.75 780,635 778.75,640 772.5,638.75" fill="#e60000" />
<polygon points="788.75,648.75 797.5,645 803.75,652.5 806.25,660 801.25,666.25 797.5,660 792.5,655" fill="#e60000" />
<polygon points="690,666 705,666 705,671 690,671" fill="#e60000" />
<polygon points="525,860 707.5,856.2 710,865 706.2,870 710,880 720,882.5 727.5,880 730,887.5 745,883.8 752.5,880 755,872.5 750,865 757.5,863.8 765,875 770,880 775,875 785,877.5 798.8,880 800,900 790,905 786.2,917.5 785,927.5 772.5,928.8 761.2,927.5 760,917.5 750,902.5 743.8,892.5 732.5,900 720,907.5 725,902.5 720,895 711.2,897.5 712.5,912.5 705,920 690,915 675,915 665,920 660,927.5 662.5,946.2 650,945 525,945" fill="#ffa500" />
<polygon points="712.5,896.25 725,895 727,905 715,908" fill="#fbd17f" />
<polygon points="742.5,946.25 750,935 765,930 780,927.5 795,926.25 805,922.5 812.5,912.5 822.5,910 825,900 816.25,895 817.5,885 825,880 820,870 825,866.25 835,875 847.5,870 857.5,862.5 870,860 882.5,863.75 890,858.75 892.5,852.5 902.5,853.75 915,850 1000,850 1000,1080 700,1080 725,983.75 725,980 735,972.5 745,970 747.5,957.5" fill="#ffff00" />
<polygon points="790,970 795,972.5 796.25,982.5 800,982.5 790,1002.5 785,1010 778.75,1010 777.5,995 780,985 787.5,977.5" fill="#fbd17f" />
<polygon points="791,870 800,869 800,876 792,877" fill="#ffff00" />
<polygon points="553.75,878.75 565,870 580,856.25 587.5,856.25 593.75,860 598.75,870 600,880 607.5,885 597.5,890 585,892.5 575,887.5 562.5,890 555,882.5" fill="#e60000" />
<polygon points="580,850 592.5,840 602.5,828 610,818 622.5,806 627.5,799 640,793 647.5,792.5 655,802.5 652.5,815 660,822.5 665,827.5 660,835 655,842.5 642.5,846.25 635,850 622.5,855 610,852.5 600,856.25 587.5,856.25" fill="#e60000" />
<polygon points="642.5,846.25 655,845 665,848.75 675,855 687.5,852.5 690,857.5 680,862.5 672.5,867.5 662.5,870 655,867.5 647.5,865 645,855" fill="#e60000" />
<polygon points="675,830 680,825 687.5,831.25 697.5,835 707.5,832.5 720,827.5 730,832.5 732.5,836.25 722.5,842.5 707.5,845 695,843.75 685,842.5 678.75,836.25" fill="#e60000" />
<polygon points="648,783 665,775.5 675,765.5 690,760.5 702.5,755.5 712.5,746.75 722.5,743 737.5,746.25 750,745 760,750 772.5,753.75 782.5,765 785,772.5 775,773.75 763.75,778.75 770,786.25 766.25,795 752.5,795 746.25,802.5 740,812.5 730,820 722.5,811.25 712.5,818.75 706.25,812.5 707.5,802.5 700,796.25 690,800 692.5,807.5 686.25,807.5 680,802.5 672.5,800 667.5,795 660,792.5 655,787.5" fill="#e60000" />
<polygon points="680,780 685,770 697.5,770 705,776.25 695,782.5 687.5,787.5" fill="#ffa500" />
<polygon points="737.5,752.5 750,750 755,760 760,768.75 750,771.25 740,767.5" fill="#730000" />
<polygon points="705,791.25 715,790 715,800 710,810 706.25,802.5" fill="#730000" />
<polygon points="720,795 728.75,795 727.5,802.5 720,801.25" fill="#730000" />
<polygon points="791.25,785 800,775 812.5,772.5 822.5,766.25 830,770 832.5,785 835,792.5 845,795 855.75,802.5 855.75,827.5 845,827.5 835,820 825,815 822.5,802.5 815,800 810,810 812.5,820 800,820 795,805 800,795 795,790" fill="#e60000" />
<polygon points="825,830 835,828.75 842.5,835 835,838.75 827.5,837.5" fill="#e60000" />
<polygon points="740,812.5 746.25,802.5 752.5,795 757.5,803.75 765,805 760,815 770,815 777.5,807.5 780,815 775,825 765,830 757.5,825 747.5,820" fill="#e60000" />
<polygon points="1067,475 1082,480 1092,482.5 1090.8,490 1104.5,492.5 1119.5,490 1122,500 1108.2,503.8 1104.5,512.5 1110.8,520 1099.5,526.2 1092,530 1088.2,525 1092,515 1090.8,502.5 1079.5,508.8 1074.5,500 1067,497.5" fill="#ffffff" />
<polygon points="1090.8,483.8 1104.5,485 1107,491.2 1094.5,492.5" fill="#ffff00" />
<polygon points="1142,487.5 1149.5,482.5 1152,472.5 1159.5,470 1162,460 1152,457.5 1149.5,450 1167,452.5 1179.5,445 1197,450 1204.5,457.5 1207,465 1197,480 1189.5,490 1179.5,500 1172,505 1162,502.5 1159.5,490 1152,495 1144.5,492.5" fill="#ffffff" />
<polygon points="1144.5,452.5 1154.5,450 1157,460 1152,470 1144.5,467.5" fill="#ffff00" />
<polygon points="1117,445 1137,440 1144.5,450 1139.5,460 1142,472.5 1137,485 1139.5,495 1127,500 1119.5,492.5 1122,480 1124.5,465 1117,455" fill="#ffff00" />
<polygon points="1120.8,502.5 1129.5,500 1142,497.5 1144.5,505 1152,510 1149.5,517.5 1139.5,520 1129.5,517.5 1122,515" fill="#fbd17f" />
<polygon points="1079.5,537.5 1097,540 1109.5,545 1124.5,537.5 1142,530 1152,535 1149.5,545 1147,560 1154.5,566.2 1144.5,568.8 1132,575 1120.8,582.5 1104.5,583.8 1099.5,581.2 1087,583.8 1077,580 1072,562.5 1074.5,557.5 1077,547.5" fill="#fbd17f" />
<polygon points="1122,555 1132,557.5 1137,565 1127,567.5 1120.8,562.5" fill="#ffff00" />
<polygon points="1107,584.5 1120.8,583 1129.5,587.5 1127,595 1120.8,592.5 1117,587" fill="#ffa500" />
<polygon points="886,490 896,487.5 906,485 928.5,480 941,487.5 938.5,502.5 943.5,512.5 931,517.5 918.5,507.5 906,502.5 896,495 881,505 878.5,502.5" fill="#ffffff" />
<polygon points="946,502.5 956,497.5 968.5,500 976,507.5 963.5,515 953.5,512.5" fill="#ffffff" />
<polygon points="973.5,522.5 981,512.5 986,525 981,532.5 976,530" fill="#ffffff" />
<polygon points="983.5,535 993.5,530 996,545 1003.5,552.5 1011,557.5 1001,562.5 993.5,555 986,550" fill="#ffffff" />
<polygon points="1008.5,525 1013.5,527.5 1011,532.5 1007.2,530" fill="#ffffff" />
<polygon points="1013.5,546.2 1021,547.5 1018.5,555 1014.8,552.5" fill="#ffffff" />
<polygon points="961,557.5 976,555 986,565 988.5,577.5 978.5,582.5 968.5,575" fill="#ffffff" />
<polygon points="971,595 981,590 993.5,592.5 996,602.5 986,607.5 976,605" fill="#ffffff" />
<polygon points="976,620 988.5,612.5 998.5,620 993.5,630 986,640 978.5,635 981,627.5" fill="#ffffff" />
<polygon points="971,635 978.5,642.5 976,650 971,645" fill="#ffffff" />
<polygon points="956,655 963.5,650 968.5,660 966,672.5 956,675 951,665" fill="#ffffff" />
<polygon points="1043.5,567.5 1053.5,560 1058.5,570 1048.5,575" fill="#ffffff" />
<polygon points="1063.5,580 1071,578.8 1071,587.5 1063.5,588.8" fill="#ffffff" />
<polygon points="1043.5,602.5 1053.5,592.5 1066,587.5 1056,597.5 1048.5,605" fill="#ffffff" />
<polygon points="941,535 948.5,536.2 949.8,545 942.2,545" fill="#ffffff" />
<polygon points="1046,480 1056,480 1053.5,487.5 1047.2,487.5" fill="#ffffff" />
<polygon points="1069.8,492.5 1081,495 1081,507.5 1071,507.5" fill="#ffffff" />
<polygon points="1028.5,535 1043.5,532.5 1056,537.5 1053.5,545 1036,546.2 1028.5,542.5" fill="#fbd17f" />
<polygon points="1051,507.5 1058.5,506.2 1058.5,515 1051,515" fill="#fbd17f" />
<polygon points="896,577.5 906,576.2 908.5,590 901,597.5 896,590" fill="#fbd17f" />
<polygon points="938.5,620 946,618.8 944.8,627.5 938.5,626.2" fill="#fbd17f" />
<polygon points="806,490 831,487.5 843.5,495 856,492.5 861,502.5 851,510 831,512.5 811,512.5 801,505" fill="#fbd17f" />
<polygon points="941,770 953.5,771.2 968.5,770 973.5,776.2 971,787.5 967.2,800 968.5,806.2 963.5,807.5 959.8,817.5 946,825 938.5,820 931,815 928.5,805 918.5,802.5 916,795 928.5,793.8 941,802.5 948.5,795 946,782.5" fill="#ffff00" />
<polygon points="818,543 830,541 838,548 834,556 824,555" fill="#fbd17f" />
<polygon points="842,528 852,527 853,536 844,537" fill="#fbd17f" />
<polygon points="1044.4,575.2 1053.7,574.3 1056.2,585.3 1048.6,589.5 1043.6,583.6" fill="#ffffff" />
<polygon points="1063.8,581.1 1075.6,579.4 1078.1,587 1067.2,589.5" fill="#ffffff" />
<polygon points="1036,592 1046.9,590.4 1050.3,600.5 1041.9,604.7 1036.8,600.5" fill="#ffffff" />
<polygon points="1042.7,610.6 1058.8,602.2 1062.1,605.5 1048.6,617.3 1041.9,617.3" fill="#ffffff" />
<polygon points="971.1,630.8 981.2,627.5 987.9,639.3 984.6,647.7 974.4,644.3" fill="#ffffff" />
<polygon points="1373.1,218.1 1370.6,209.6 1378.1,212.5 1384.4,220.6 1380.3,229 1372.2,236.1 1371.4,227.3" fill="#ffffff" />
<polygon points="1363,234.9 1370.6,237.5 1366.3,244.2 1363.8,254.3 1357.1,257.7 1353.7,264.4 1350.7,269.5 1348.6,264.4 1352,256 1358.8,249.3" fill="#ffffff" />
</g>
<polygon points="840.7,884 843.9,885.9 844.6,891.1 847.8,895.7 853,897 855,901.5 859.5,898.9 865.3,898.3 869.9,898.9 871.2,895 873.8,893.1 877,895.7 877.7,902.8 875.1,907.3 870.5,904.7 871.2,911.9 869.9,918.4 866,922.9 860.8,924.9 856.9,927.4 856.3,932 850.4,934.6 846.5,935.9 847.8,943 846.5,949.5 843.3,954 837.4,956.6 834.2,954.7 834.9,961.2 831,959.2 827.1,963.8 821.9,968.3 815.4,970.2 811.5,972.8 807.6,974.8 805,980.6 803.1,985.2 797.9,983.9 795.3,979.3 795.3,973.5 797.9,967.7 803.1,965.1 807,963.8 807,957.3 808.9,949.5 814.1,946.3 820.6,945 825.8,944.3 825.1,939.1 831,936.5 833.6,935.2 831,930 832.9,926.1 836.1,923.6 836.1,917.1 838.7,913.8 840.7,918.4 842,923.6 840.7,911.9 842.6,906.7 846.5,903.5 842.6,898.9 839.4,895 840,888.5" fill="#ffffff" />
<g style="mix-blend-mode:multiply">
<polygon points="531.2,288.8 533.8,290 540,301.2 545,305 565,296.2 575,283.8 582.5,278.8 600,275 612.5,271.2 620,276.2 635,280 645,288.8 657.5,293.8 670,292.5 677.5,287.5 687.5,286.2 697.5,293.8 707.5,290 717.5,281.2 726.2,273.8 726.2,293.8 715,303.8 717.5,308.8 740,311.2 755,312.5 750,300 747.5,285 752.5,265 762.5,252.5 772.5,242.5 778.5,237.5 774.8,230 793.5,210 813.5,207.5 818.5,195 823.5,177.5 838.5,167.5 851,162.5 856,140 861,125 863.5,105 873.5,85 878.5,62.5 886,50 894.8,43.8 896,46.2 891,52.5 888.5,63.8 931,83.8 934.8,73.8 943.5,63.8 949.8,68.8 956,63.8 963.5,70 971,78.8 972.2,86.2 981,83.8 991,80 992.2,86.2 1003.5,86.2 1011,91.2 1016,78.8 1024.8,82.5 1051,73.8 1058.5,70 1072.2,70 1074.8,63.8 1077.2,71.2 1088.5,68.8 1078.5,75 1079.8,88.8 1091,86.2 1083.5,92.5 1083.5,102.5 1081,117.5 1091,130 1097.2,137.5 1093.5,150 1093.5,165 1088.5,170 1088.5,177.5 1104.5,173.8 1117,165 1132,156.2 1149.5,145 1162,136.2 1174.5,132 1189.5,133 1199.5,136.2 1195.8,151.2 1212,158 1227,152 1239.5,153.8 1252,162.5 1264.5,170 1274.5,173.8 1282,176.2 1294.5,173 1307,183.8 1315.8,191.2 1317,202.5 1324.5,203.8 1335.8,199.5 1347,201.2 1354.5,205 1369.5,206.2 1378.2,211.2 1387,221.2 1383.2,231.2 1377,238.8 1367,243.8 1364.5,250 1368.2,256.2 1357,260 1352,270 1353.2,278.8 1350.8,283.8 1360.8,292.5 1370.8,300 1372,308.8 1349.5,307.5 1339.5,312.5 1342,317.5 1327,322.5 1324.5,332.5 1330.8,340 1329.5,348.8 1320.8,350 1329.5,357.5 1337,370 1335.8,350 1320.8,351.2 1329.5,357.5 1335.8,367.5 1335.8,377.5 1328.2,386.2 1323.2,395 1322,402.5 1317,407.5 1314.5,415 1297,417.5 1293.2,425 1294.5,440 1287,450 1278.2,455 1274.5,465 1272,475 1273.2,482.5 1267,485 1272,488.8 1254.5,495 1234.5,505 1230.8,506.2 1227,502.5 1202,505 1187,510 1177,513.8 1167,515 1154.5,522.5 1158.2,530 1177,531.2 1182,533.8 1178.2,541.2 1165.8,542.5 1152,550 1147,560 1154.5,566.2 1144.5,568.8 1132,575 1120.8,582.5 1129.5,587.5 1127,595 1120.8,592.5 1117,586.2 1104.5,585 1087,590 1074.5,595 1076,597.5 1061,605 1048.5,613.8 1043.5,620 1031,630 1018.5,640 1006,650 996,657.5 986,667.5 978.5,677.5 973.5,687.5 968.5,697.5 971,702.5 968.5,715 966,727.5 967.2,720 969.8,732.5 968.5,745 976,752.5 982.2,755 979.8,767.5 973.5,775 971,787.5 967.2,800 968.5,806.2 963.5,807.5 959.8,817.5 946,825 936,832.5 926,842.5 916,852.5 912,860 907.5,865.2 902.3,874.3 897.1,884.6 893.2,893.7 889.3,902.8 885.4,909.3 878.9,917.1 872.5,926.1 866,935.2 859.5,941.7 853,946.9 845.2,954.7 837.4,959.9 828.4,966.4 819.3,971.5 811.5,976.7 805,983.2 801.1,988.4 795.9,994.9 792,999.9 790,1002.5 785,1015 778.8,1030 770,1042.5 760,1050 750,1057.5 740,1063.8 735,1060 733.8,1055 738.8,1050 737.5,1040 742.5,1032.5 750,1030 752.5,1020 760,1017 767.5,1022.5 776.2,1015 780,1007.5 778,995 777,988 775.5,987.5 770,993 772.5,1000 762.5,1002.5 755,1010 745,1008.8 735,1002.5 727.5,995 725,983.8 717.5,980 707.5,975 700,970 690,962.5 682.5,955 672.5,952.5 662.5,946.2 650,937.5 640,927.5 635,925 627.5,930 617.5,935 616.2,925 607.5,915 595,905 585,895 575,887.5 562.5,890 560,896.2 545,897.5 537.5,892.5 547.5,887.5 553.8,878.8 565,870 580,856.2 585,850 592.5,842.5 602.5,830 610,820 622.5,808.8 627.5,801.2 640,795 650,785 665,777.5 675,767.5 690,762.5 702.5,757.5 712.5,748.8 722.5,745 727.5,732.5 725,720 727.5,705 720,692.5 717.5,677.5 707.5,671.2 690,677.5 685,666.2 680,655 675,640 685,630 692.5,620 697.5,605 700,600 690,595 680,590 662.5,595 650,600 643.8,587.5 638.8,575 638.8,560 632.5,545 635,535 627.5,521.2 620,511.2 617.5,512.5 605,512.5 596.2,507.5 587.5,512.5 577.5,515 565,512.5 550,512.5 537.5,508.8 520,505 525,487.5 521.2,480 524.2,483.8 527.5,462.5 528.8,447.5 523.8,440 517.5,422.5 513.8,415 526.2,405 515,396.2 521.2,382.5 528.8,365 535,360 532.5,355 540,326.2 545,322.5 542.5,320 535,300" fill="none" stroke="#808080" stroke-width="2.6" stroke-linejoin="round"/>
<polygon points="840.7,884 843.9,885.9 844.6,891.1 847.8,895.7 853,897 855,901.5 859.5,898.9 865.3,898.3 869.9,898.9 871.2,895 873.8,893.1 877,895.7 877.7,902.8 875.1,907.3 870.5,904.7 871.2,911.9 869.9,918.4 866,922.9 860.8,924.9 856.9,927.4 856.3,932 850.4,934.6 846.5,935.9 847.8,943 846.5,949.5 843.3,954 837.4,956.6 834.2,954.7 834.9,961.2 831,959.2 827.1,963.8 821.9,968.3 815.4,970.2 811.5,972.8 807.6,974.8 805,980.6 803.1,985.2 797.9,983.9 795.3,979.3 795.3,973.5 797.9,967.7 803.1,965.1 807,963.8 807,957.3 808.9,949.5 814.1,946.3 820.6,945 825.8,944.3 825.1,939.1 831,936.5 833.6,935.2 831,930 832.9,926.1 836.1,923.6 836.1,917.1 838.7,913.8 840.7,918.4 842,923.6 840.7,911.9 842.6,906.7 846.5,903.5 842.6,898.9 839.4,895 840,888.5" fill="none" stroke="#808080" stroke-width="2.4" stroke-linejoin="round"/>
<polyline points="988.5,192.5 1031,195 1028.5,217.5 984.8,217.5 988.5,192.5" fill="none" stroke="#7c7c7c" stroke-width="3.0" stroke-linejoin="round" stroke-linecap="round" />
<polyline points="1088.5,170 1078.5,162.5 1068.5,157.5 1068.5,170 1051,170 1049.8,180 1054.8,190 1052.2,200 1054.8,210 1031,216.2 1027.2,220 1023.5,235 1031,245 1038.5,255 1041,265 1031,270 1021,280 1023.5,287.5 1033.5,292.5 1033.5,300 1031,297.5 1033.5,312.5 1028.5,317.5 1016,326.2 1003.5,332.5 991,330 973.5,328.8 956,327.5 938.5,332.5 923.5,336.2 906,341.2 888.5,345 878.5,357.5 868.5,366.2 863.5,375 861.2,381.8" fill="none" stroke="#7c7c7c" stroke-width="3.0" stroke-linejoin="round" stroke-linecap="round" />
<polyline points="755,312.5 753.8,325 770,327.5 762.5,333.8 762.5,340 780,342.5 800,353.8 822.5,365 845,372.5 855,377.5 861.2,381.8" fill="none" stroke="#7c7c7c" stroke-width="3.0" stroke-linejoin="round" stroke-linecap="round" />
<polyline points="861.2,381.8 855,391.2 854.5,405 850,415 840,421.2 832.5,427.5 825,437.5 822.5,450 815,460 811.2,472.5 803.8,480 801.2,490 795,497.5 785,510 772.5,517.5 760,525 750,535 737.5,542.5 727.5,555 720,567.5 711.2,575 708.8,587.5 705,600 707.5,590 700,600" fill="none" stroke="#7c7c7c" stroke-width="3.0" stroke-linejoin="round" stroke-linecap="round" />
<polyline points="855,410 865,402.5 875,397.5 890,400 905,402.5 925,403.8 937.5,405 937.5,415 946.2,420 950,415 952.5,426.2 955,416.2 975,412.5 987.5,410 1000,408.8 1015,406.2 1022.5,405 1032.5,415 1033.8,425 1041.2,437.5 1036.2,447.5 1042.5,460 1047.5,475 1055.8,472.5 1063.5,473.8 1068.5,480 1068.5,487.5 1062.2,495 1061,505 1063.5,513.8 1058.5,520 1063.5,527.5 1073.5,533.8 1078.5,538.8 1082,531.2 1104.5,533.8 1117,531.2 1137,526.2 1154.5,522.5" fill="none" stroke="#7c7c7c" stroke-width="3.0" stroke-linejoin="round" stroke-linecap="round" />
<polyline points="801.2,527.5 810,530 817.5,533.8 840,535 855,540 865,546.2 885,546.2 900,545 907.5,550 915,555 920,560 921.2,575 925,590 926,590 931,600 936,607.5 941,613.8 936,622.5 936,628.8 946,630 971,630 972.2,637.5 971,645 981,645 988.5,650 991,656.2 1003.5,650" fill="none" stroke="#7c7c7c" stroke-width="3.0" stroke-linejoin="round" stroke-linecap="round" />
<polyline points="727.5,702.5 740,703.8 750,707.5 775,710 795,713.8 812.5,720 826,721.2 841,723.8 842.2,712.5 848.5,705 861,703.8 869.8,702.5 876,693.8 886,696.2 896,693.8 906,695 916,700 926,702.5 936,697.5 946,693.8 968.5,692.5" fill="none" stroke="#7c7c7c" stroke-width="3.0" stroke-linejoin="round" stroke-linecap="round" />
<polyline points="722.5,745 737.5,747.5 750,745 756,746.2 768.5,750 783.5,752.5 796,756.2 806,760 813.5,765 828.5,766.2 838.5,773.8 846,778.8 856,788.8 866,797.5 873.5,806.2 883.5,808.8 898.5,808.8 913.5,810 916,813.8 906,825 904.8,837.5 896,846.2 901,851.2 903.5,845 911,848.8 916,850" fill="none" stroke="#7c7c7c" stroke-width="3.0" stroke-linejoin="round" stroke-linecap="round" />
</g>
<polygon points="695,600 702.5,601.2 697.5,607.5 700,615 705,616.2 700,622.5 705,630 700,637.5 702.5,645 697.5,652.5 702.5,657.5 697.5,662.5 685,666.2 680,660 682.5,655 675,652.5 680,647.5 672.5,640 685,636.2 683.8,630 692.5,627.5 687.5,622.5 695,615 693.8,607.5" fill="#3232d2" />
<polygon points="751.2,820 753.8,827.5 760,830 757.5,838.8 750,841.2 745,835 748.8,828.8" fill="#0000cd" />
<polyline points="898.5,226.2 892.2,228.8 888.5,242.5 881,256.2 866,260 851,257.5 838.5,272.5 818.5,273.8 808.5,266.2 798.5,276.2 781,278.8 768.5,285 766,297.5 766.2,286.2 768.8,296.2 761.2,307.5 755,315 746.2,322.5 745,340 732.5,347.5 725,350 723.8,360 718.8,372.5 720,383.8 712.5,388.8 693.8,387.5 696.2,397.5 692.5,410 682.5,420 675,430 672.5,442.5 665,450 650,455 637.5,466.2 632.5,485 625,500 635,480 630,490 620,511.2 627.5,521.2 635,535 632.5,545 638.8,560 638.8,575 643.8,587.5 650,600 662.5,603.8 663.8,617.5 651.2,620 636.2,625 630,632.5 617.5,637.5 610,647.5 618.8,657.5 636.2,666.2 652.5,665 662.5,667.5 680,670 685,672 700,665 710,657.5 720,650 737.5,643.8 750,647.5 765,651.2 777.5,656.2 790,660 800,653.8 815,651.2 832.5,653.8 846.2,656.2 847.5,667.5 853.5,672.5 863.5,670 866,665" fill="none" stroke="#6e4e44" stroke-width="5" stroke-linejoin="round" stroke-linecap="round" />
<polyline points="1028.5,588.8 1038.5,587.5 1047.2,588.8 1049.8,595 1056,596.2 1063.5,591.2 1078.5,586.2 1088.5,582.5 1103.5,580 1099.5,581.2 1110.8,578.8 1112,573.8 1107,571.2 1094.5,573.8 1084.5,571.2 1074.5,566.2 1072,562.5 1079.5,557.5 1089.5,548.8 1097,542.5" fill="none" stroke="#6e4e44" stroke-width="5" stroke-linejoin="round" stroke-linecap="round" />
<polyline points="982.2,552.5 976,545 968.5,538.8 956,536.2 948.5,528.8 938.5,521.2 928.5,516.2 921,513.8 918.5,517.5 906,520 891,521.2 876,516.2 861,512.5 843.5,511.2 836,513.8 823.5,511.2 808.5,512.5 793.5,517.5 776,521.2 761,526.2 756.2,530 752.5,538.8 757.5,543.8 770,545 766,545.5 781,547.5 793.5,555 803.5,565 818.5,571.2 833.5,575 838.5,580 846,590 853.5,602.5 859.8,615 861,627.5 862.2,640 866,650 863.5,655 866,665 873.5,672.5 881,675 888.5,671.2 897.2,672.5 906,670 913.5,667.5 911,658.8 904.8,652.5 906,647.5 911,640 918.5,632.5 926,625 936,618.8 943.5,615" fill="none" stroke="#e47b52" stroke-width="5.6" stroke-linejoin="round" stroke-linecap="round" />
<polyline points="916,553.8 931,548.8 946,552.5 963.5,555 978.5,553.8 986,562.5 993.5,567.5 1001,576.2 1011,585 1021,588.8 1028.5,591.2 1021,593.8 1006,596.2 996,602.5 981,610 968.5,613.8 961,622.5 953.5,616.2 944.8,611.2 942.2,600 938.5,587.5 933.5,575 928.5,566.2 921,560 916,553.8" fill="none" stroke="#1f8cc8" stroke-width="5.2" stroke-linejoin="round" stroke-linecap="round" />
<polyline points="844.8,670 843.5,675 831,678.8 821,683.8 811,687.5 801,682.5 796,687.5 789.8,692.5 791,702.5 803.5,706.2 818.5,710 828.5,717.5 836,726.2 848.5,722.5 861,728.8 873.5,731.2 891,732.5 892.2,720 893.5,712.5 906,715 913.5,720 918.5,725 926,715 936,705 946,695 952.2,692.5 946,687.5 947.2,677.5 952.2,670 948.5,662.5 941,657.5 934.8,657.5 926,663.8 916,667.5" fill="none" stroke="#0a640a" stroke-width="3.9" stroke-linejoin="round" stroke-linecap="round" />
<polyline points="832.2,770 843.5,771.2 861,773.8 876,780 886,786.2 896,785 911,785 921,788.8 928.5,793.8 927.2,805 923.5,812.5 913.5,818.8 903.5,823.8 893.5,822.5 883.5,817.5 873.5,820 863.5,813.8 856,812.5 854.8,805 852.2,798.8 843.5,797.5 836,793.8 831,790 833.5,780 832.2,770" fill="none" stroke="#a438f5" stroke-width="5.4" stroke-linejoin="round" stroke-linecap="round" />
<polyline points="747.5,796.2 755,795 757.5,801.2 770,802.5 780,801.2 786.2,798.8 792.5,801.2 796.2,800 793.8,812.5 790,820 790,827.5 782.5,830 775,835 767.5,832.5 760,830 755,837.5 745,836.2 737.5,830 730,822.5 735,817.5 745,808.8 747.5,802.5 747.5,796.2" fill="none" stroke="#0000d2" stroke-width="4.4" stroke-linejoin="round" stroke-linecap="round" />
<polyline points="1017.2,213.8 1016,227.5 1017.2,240 1016,252.5 1011,262.5 1009.8,275 1004.8,282.5 1008.5,292.5 1009.8,300 1007.2,305 1003.5,315 991,322.5 979.8,331.2 978.5,337.5 987.2,343.8 998.5,350 1012.2,351.2 1016,360" fill="none" stroke="#4caf50" stroke-width="4" stroke-linejoin="round" stroke-linecap="round" />
<polyline points="1017.2,213.8 1023.5,222.5 1033.5,230 1041,237.5 1046,250 1042.2,257.5 1044.8,265 1033.5,270 1032.2,276.2 1037.2,285 1038.5,300 1038.5,312.5 1046,321.2 1063.5,322.5 1076,330 1081,345 1087.2,362.5 1088.5,370" fill="none" stroke="#4caf50" stroke-width="4" stroke-linejoin="round" stroke-linecap="round" />
<polyline points="1024.8,190 1021,200 1014.8,205 1017.2,213.8" fill="none" stroke="#ff12c0" stroke-width="4" stroke-linejoin="round" stroke-linecap="round" />
<polyline points="1024.8,190 1021,192.5 1008.5,195 1001,197.5 988.5,197.5 981,201.2 968.5,202.5 956,203.8 954.8,215 949.8,227.5 953.5,232.5 959.8,240 961,247.5 956,255 952.2,265 951,277.5 947.2,282.5 947.2,292.5 943.5,300 939.8,302.5 932.2,311.2 933.5,327.5 938.5,338.8 948.5,346.2 966,353.8 978.5,357.5 986,366.2 991,372.5 999.8,380 1006,385" fill="none" stroke="#ff12c0" stroke-width="4" stroke-linejoin="round" stroke-linecap="round" />
<polyline points="898.5,226.2 897.2,215 901,210 896,200 893.5,190 898.5,177.5 901,172.5 911,166.2 921,161.2 928.5,150 938.5,137.5 942.2,130 942.2,122.5 953.5,120 958.5,113.8 968.5,110 976,115 983.5,118.8 992.2,120 993.5,126.2 1002.2,131.2 1011,126.2 1019.8,122.5 1026,127.5 1031,132.5 1028.5,142.5 1024.8,155 1021,160 1018.5,172.5 1021,180 1021,190" fill="none" stroke="#b0000f" stroke-width="5.4" stroke-linejoin="round" stroke-linecap="round" />
<polyline points="898.5,226.2 911,227.5 922.2,222.5 931,225 943.5,223.8 949.8,227.5" fill="none" stroke="#b0000f" stroke-width="5.4" stroke-linejoin="round" stroke-linecap="round" />
<polyline points="1089.8,375 1093.5,362.5 1099.8,347.5 1106,330 1116,321.2 1124.8,317.5 1136,322.5 1147.2,327.5 1149.8,340 1164.8,347.5 1169.8,362.5 1176,377.5 1181,392.5 1188.5,410 1193.5,425 1204.8,428.8 1204.8,437.5 1201,447.5" fill="none" stroke="#0ac80a" stroke-width="5" stroke-linejoin="round" stroke-linecap="round" />
<polyline points="1077.2,436.2 1082.2,440 1086,433.8 1087.2,440 1081,447.5 1078.5,456.2 1063.5,462.5 1063.5,467.5 1068.5,475 1074.8,480 1081,487.5 1088.5,495 1089.8,503.8 1081,506.2 1076,510 1082.2,513.8 1091,518.8 1087.2,525 1081,532.5 1088.5,535" fill="none" stroke="#14d8e8" stroke-width="5" stroke-linejoin="round" stroke-linecap="round" />
<polyline points="1062.2,463.8 1063,467.5" fill="none" stroke="#14d8e8" stroke-width="5" stroke-linejoin="round" stroke-linecap="round" />
<polyline points="1078.2,437.5 1087,440 1098.2,428.8 1114.5,426.2 1124.5,422.5 1132,428.8 1142,435 1153.2,436.2 1162,442.5 1174.5,443.8 1184.5,448.8 1197,448.8 1204.5,455 1209.5,462.5 1207,470 1197,480 1189.5,490 1179.5,501.2 1172,510 1159.5,516.2 1149.5,521.2 1134.5,526.2 1122,533.8 1108.2,543.8 1099.5,542.5 1097,537.5 1087,533.8 1079.5,532.5" fill="none" stroke="#14d8e8" stroke-width="5.4" stroke-linejoin="round" stroke-linecap="round" />
<polyline points="1016,360 1031,355 1039.8,350 1048.5,355 1056,357.5 1059.8,365 1073.5,370 1087.2,371.2 1089.8,380 1091,390 1081,397.5 1068.5,400 1063.5,406.2 1061,413.8 1053.5,415 1043.5,412.5 1036,405 1028.5,397.5 1021,392.5 1014.8,382.5 1012.2,372.5 1016,360" fill="none" stroke="#ff4a0a" stroke-width="4" stroke-linejoin="round" stroke-linecap="round" />
<polyline points="1019.8,392.5 1011,386.2 1001,385 988.5,386.2 973.5,390 961,387.5 951,382.5 941,382.5 931,378.8 913.5,381.2 911,390 907.2,400 909.8,406.2 923.5,410 936,420 943.5,430 956,436.2 967.2,440 968.5,450 974.8,460 973.5,470 981,477.5 986,485 993.5,491.2 1003.5,500 1016,507.5 1022.2,513.8 1023.5,522.5 1036,526.2 1048.5,525 1053.5,531.2 1068.5,533.8 1081,532.5 1087.2,525 1091,518.8 1082.2,513.8 1076,510 1081,506.2 1089.8,503.8 1088.5,495 1081,487.5 1074.8,480 1068.5,475 1063.5,467.5 1063.5,462.5 1078.5,456.2 1081,447.5 1087.2,440 1086,433.8 1078.5,430 1071,422.5 1064.8,417.5 1061,413.8" fill="none" stroke="#5b2a8c" stroke-width="3.9" stroke-linejoin="round" stroke-linecap="round" />
<polyline points="1078.5,536.2 1073.5,545 1076.8,552.5 1071.5,558 1066,563.8 1060.5,568" fill="none" stroke="#000000" stroke-width="6.4" stroke-linejoin="round" stroke-linecap="round" />
<polyline points="948.5,150 947.2,143.8 952.2,137.5 956,131.2 963.5,127.5 971,130 976,123 983.5,124.5 987.2,132.5 991,138.8" fill="none" stroke="#3434d0" stroke-width="4.6" stroke-linejoin="round" stroke-linecap="round"/>
<polyline points="979.8,111.2 982.2,116.2 978.5,122" fill="none" stroke="#3434d0" stroke-width="5.5" stroke-linejoin="round" stroke-linecap="round"/>
<polyline points="968.5,129.5 972.2,126.2" fill="none" stroke="#3434d0" stroke-width="5" stroke-linejoin="round" stroke-linecap="round"/>
<polyline points="1125.2,322.8 1124.3,330.4 1126,338.8 1129.4,347.2 1131.1,354" fill="none" stroke="#0000cd" stroke-width="5.5" stroke-linejoin="round" stroke-linecap="round"/>
<polyline points="1116.7,339.6 1124.3,337.9 1131.9,336.3" fill="none" stroke="#0000cd" stroke-width="3.6" stroke-linejoin="round" stroke-linecap="round"/>
<polyline points="1119.3,358.2 1127.7,355.6 1136.1,360.7" fill="none" stroke="#0000cd" stroke-width="3.6" stroke-linejoin="round" stroke-linecap="round"/>
<polyline points="1131.1,350.6 1139.5,348.9 1146.2,351.4" fill="none" stroke="#0000cd" stroke-width="3.6" stroke-linejoin="round" stroke-linecap="round"/>
<polyline points="1120.9,348.9 1129.4,348.9" fill="none" stroke="#0000cd" stroke-width="3.6" stroke-linejoin="round" stroke-linecap="round"/>
<polyline points="1122.6,332 1129.4,328.7" fill="none" stroke="#0000cd" stroke-width="3.6" stroke-linejoin="round" stroke-linecap="round"/>
<polyline points="1134.4,343.8 1127.7,343" fill="none" stroke="#0000cd" stroke-width="3.6" stroke-linejoin="round" stroke-linecap="round"/>
<polyline points="1137,354 1136.1,361.6" fill="none" stroke="#0000cd" stroke-width="3.6" stroke-linejoin="round" stroke-linecap="round"/>
<polyline points="1092.3,440.8 1099,437.4 1107.5,435.8 1116.7,434.9" fill="none" stroke="#0000cd" stroke-width="5.2" stroke-linejoin="round" stroke-linecap="round"/>
<polyline points="1104.9,434.9 1107.5,440.8 1111.7,447.6 1116.7,453.5 1124.3,456.8 1131.9,458.5" fill="none" stroke="#0000cd" stroke-width="5.2" stroke-linejoin="round" stroke-linecap="round"/>
<polyline points="1088.1,446.7 1092.3,452.6 1096.5,460.2 1097,468.6 1101.6,475.4 1108.3,477.1 1116.7,479.1" fill="none" stroke="#0000cd" stroke-width="5.2" stroke-linejoin="round" stroke-linecap="round"/>
<polyline points="1084.7,451.8 1091.4,451.8" fill="none" stroke="#0000cd" stroke-width="3.4" stroke-linejoin="round" stroke-linecap="round"/>
<polyline points="1085.5,458.5 1095.6,459.9" fill="none" stroke="#0000cd" stroke-width="3.4" stroke-linejoin="round" stroke-linecap="round"/>
<polyline points="1086.4,470.7 1096.5,468.6" fill="none" stroke="#0000cd" stroke-width="3.4" stroke-linejoin="round" stroke-linecap="round"/>
<polyline points="1096.5,459.4 1107.5,458.5" fill="none" stroke="#0000cd" stroke-width="3.4" stroke-linejoin="round" stroke-linecap="round"/>
<polyline points="1129.4,454.3 1131.4,461.6" fill="none" stroke="#0000cd" stroke-width="3.4" stroke-linejoin="round" stroke-linecap="round"/>
<polyline points="1107.5,443.3 1115.9,440.8" fill="none" stroke="#0000cd" stroke-width="3.4" stroke-linejoin="round" stroke-linecap="round"/>
<polyline points="1111.7,448.4 1114.2,456.8" fill="none" stroke="#0000cd" stroke-width="3.4" stroke-linejoin="round" stroke-linecap="round"/>
<polyline points="1095.6,433.2 1098.2,438.3" fill="none" stroke="#0000cd" stroke-width="3.4" stroke-linejoin="round" stroke-linecap="round"/>
<polyline points="1090.6,464.4 1099,464.4" fill="none" stroke="#0000cd" stroke-width="3.4" stroke-linejoin="round" stroke-linecap="round"/>
<polyline points="1098.2,475.4 1095.6,479.6" fill="none" stroke="#0000cd" stroke-width="3.4" stroke-linejoin="round" stroke-linecap="round"/>
<polyline points="1110.8,477.1 1114.2,481.3" fill="none" stroke="#0000cd" stroke-width="3.4" stroke-linejoin="round" stroke-linecap="round"/>
<polyline points="765,530 770,532.5 776,530.5 782,531.5 788,533 794,531.5 800,532.5" fill="none" stroke="#0000cd" stroke-width="4" stroke-linejoin="round" stroke-linecap="round"/>
<polyline points="800,685 804,689.5 810,692 817,691.5 822,688" fill="none" stroke="#0000cd" stroke-width="4" stroke-linejoin="round" stroke-linecap="round"/>
<polyline points="846,777.5 852,783 858,789 866,796" fill="none" stroke="#0000cd" stroke-width="4" stroke-linejoin="round" stroke-linecap="round"/>
<polygon points="1125.2,321.6 1121.8,331.2 1117.6,336.3 1117.2,341.3 1122.6,342.2 1124.3,348.1 1120.6,354 1119.3,359.4 1127.7,357.7 1134.4,359 1136.5,362.7 1138.5,355.6 1146.6,352.6 1145.9,349.2 1139.8,348.9 1136.5,344.7 1133.1,336.3 1130.2,327.8" fill="#0000cd"/>
<rect x="29.2" y="93.1" width="39.8" height="22.6" rx="2" fill="#fff" stroke="#ff4a0a" stroke-width="3.5"/>
<text x="79.4" y="112.9" class="t" textLength="230.7" lengthAdjust="spacingAndGlyphs">Bacia UHE Nova Ponte</text>
<rect x="29.2" y="129.25" width="39.8" height="22.6" rx="2" fill="#fff" stroke="#5b2a8c" stroke-width="3.5"/>
<text x="79.4" y="149.05" class="t" textLength="240.1" lengthAdjust="spacingAndGlyphs">Bacia UHE Marimbondo</text>
<rect x="29.2" y="165.4" width="39.8" height="22.6" rx="2" fill="#fff" stroke="#1f8cc8" stroke-width="3.9"/>
<text x="79.4" y="185.2" class="t" textLength="214.3" lengthAdjust="spacingAndGlyphs">Bacia UHE Jurumirim</text>
<rect x="29.2" y="201.55" width="39.8" height="22.6" rx="2" fill="#fff" stroke="#4caf50" stroke-width="3.5"/>
<text x="79.4" y="221.35" class="t" textLength="237.5" lengthAdjust="spacingAndGlyphs">Bacia UHE Emborcação</text>
<rect x="29.2" y="237.7" width="39.8" height="22.6" rx="2" fill="#fff" stroke="#e47b52" stroke-width="4.6"/>
<text x="79.4" y="257.5" class="t" textLength="200.9" lengthAdjust="spacingAndGlyphs">Bacia UHE Capivara</text>
<rect x="29.2" y="273.85" width="39.8" height="22.6" rx="2" fill="#fff" stroke="#ff12c0" stroke-width="3.5"/>
<text x="79.4" y="293.65" class="t" textLength="212.2" lengthAdjust="spacingAndGlyphs">Bacia UHE Itumbiara</text>
<rect x="29.2" y="310" width="39.8" height="22.6" rx="2" fill="#fff" stroke="#b0000f" stroke-width="4.6"/>
<text x="79.4" y="329.8" class="t" textLength="243.9" lengthAdjust="spacingAndGlyphs">Bacia UHE SerradaMesa</text>
<rect x="29.2" y="346.15" width="39.8" height="22.6" rx="2" fill="#fff" stroke="#14d8e8" stroke-width="4.6"/>
<text x="79.4" y="365.95" class="t" textLength="180.6" lengthAdjust="spacingAndGlyphs">Bacia UHE Furnas</text>
<rect x="29.2" y="382.3" width="39.8" height="22.6" rx="2" fill="#fff" stroke="#0ac80a" stroke-width="4.6"/>
<text x="79.4" y="402.1" class="t" textLength="231.2" lengthAdjust="spacingAndGlyphs">Bacia UHE Três Marias</text>
<rect x="29.2" y="418.45" width="39.8" height="22.6" rx="2" fill="#fff" stroke="#0000d2" stroke-width="3.5"/>
<text x="79.4" y="438.25" class="t" textLength="220.6" lengthAdjust="spacingAndGlyphs">Drenagem_PassoReal</text>
<rect x="29.2" y="454.6" width="39.8" height="22.6" rx="2" fill="#fff" stroke="#6e4e44" stroke-width="4.6"/>
<text x="79.4" y="474.4" class="t" textLength="177.3" lengthAdjust="spacingAndGlyphs">Drenagem_Itaipú</text>
<rect x="29.2" y="490.75" width="39.8" height="22.6" rx="2" fill="#fff" stroke="#0a640a" stroke-width="3.5"/>
<text x="79.4" y="510.55" class="t" textLength="201.4" lengthAdjust="spacingAndGlyphs">Drenagem_Segredo</text>
<rect x="29.2" y="526.9" width="39.8" height="22.6" rx="2" fill="#fff" stroke="#a438f5" stroke-width="4.6"/>
<text x="79.4" y="546.7" class="t" textLength="248.2" lengthAdjust="spacingAndGlyphs">Drenagem Barra Grande</text>
<rect x="29.2" y="563.05" width="39.8" height="22.6" rx="2" fill="#fff" stroke="#000000" stroke-width="4.6"/>
<text x="79.4" y="582.85" class="t" textLength="197.6" lengthAdjust="spacingAndGlyphs">Sistema_Cantareira</text>
<text x="66.2" y="727.6" class="t" textLength="172.9" lengthAdjust="spacingAndGlyphs">Condição Normal</text>
<rect x="16" y="743.2" width="39.6" height="22.5" fill="#ffff00"/>
<text x="66.2" y="763.8" class="t" textLength="108.9" lengthAdjust="spacingAndGlyphs">Seca Fraca</text>
<rect x="16" y="779.4" width="39.6" height="22.5" fill="#fbd17f"/>
<text x="66.2" y="800" class="t" textLength="154.2" lengthAdjust="spacingAndGlyphs">Seca Moderada</text>
<rect x="16" y="815.6" width="39.6" height="22.5" fill="#ffa500"/>
<text x="66.2" y="836.2" class="t" textLength="122.9" lengthAdjust="spacingAndGlyphs">Seca Severa</text>
<rect x="16" y="851.8" width="39.6" height="22.5" fill="#e60000"/>
<text x="66.2" y="872.4" class="t" textLength="138.4" lengthAdjust="spacingAndGlyphs">Seca Extrema</text>
<rect x="16" y="888" width="39.6" height="22.5" fill="#730000"/>
<text x="66.2" y="908.6" class="t" textLength="173.7" lengthAdjust="spacingAndGlyphs">Seca Excepcional</text>
<text x="27.6" y="682.3" class="h" textLength="203.7" lengthAdjust="spacingAndGlyphs">IIS-6 janeiro2022</text>
<rect x="0" y="909.7" width="400" height="40" fill="#fff"/>
</svg>
</body></html>
